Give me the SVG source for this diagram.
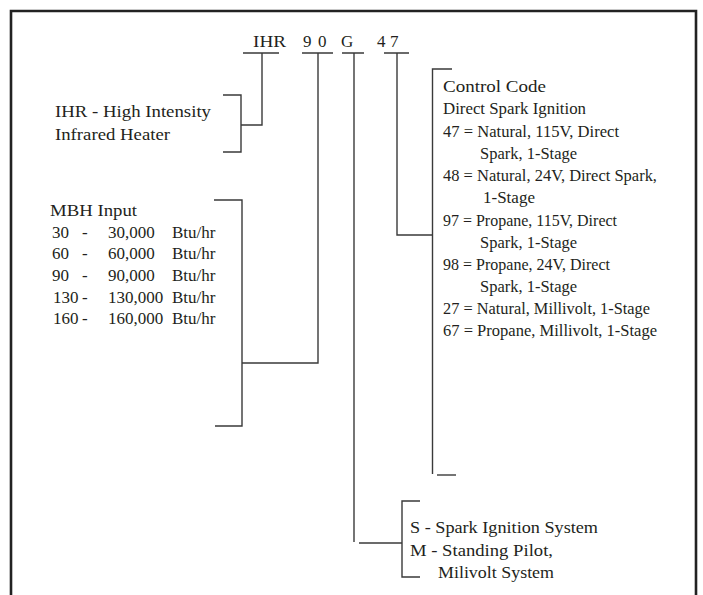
<svg xmlns="http://www.w3.org/2000/svg" width="703" height="595" viewBox="0 0 703 595">
<style>
text{font-family:"Liberation Serif","Times New Roman",serif;font-size:17px;fill:#231f20}
.ln{fill:none;stroke:#3a3a3a;stroke-width:1.4}
.border{fill:none;stroke:#222;stroke-width:2.6}
</style>
<rect x="0" y="0" width="703" height="595" fill="#fff"/>
<path class="border" d="M11,596 V11 H696 V596"/>
<g id="code">
<text x="253" y="47" textLength="33" lengthAdjust="spacingAndGlyphs">IHR</text>
<text x="303" y="47">9</text><text x="318" y="47">0</text>
<text x="341" y="47">G</text>
<text x="377" y="47">4</text><text x="390" y="47">7</text>
</g>
<g id="connectors">
<path class="ln" d="M243,53 H279 M302,53 H333 M342,53 H364 M384,53 H409"/>
<path class="ln" d="M262,53 V125 H241"/>
<path class="ln" d="M223,95 H241 V152 H223"/>
<path class="ln" d="M318,53 V363 H242"/>
<path class="ln" d="M214,200 H242 V426 H215"/>
<path class="ln" d="M354,53 V542"/>
<path class="ln" d="M359,543 H402"/>
<path class="ln" d="M420,501 H402 V577 H420"/>
<path class="ln" d="M397,53 V235 H432"/>
<path class="ln" d="M452,69 H432.5 V474"/>
<path class="ln" d="M437,475 H456"/>
</g>
<g id="ihr">
<text x="55" y="117" textLength="156" lengthAdjust="spacingAndGlyphs">IHR - High Intensity</text>
<text x="55" y="140" textLength="115" lengthAdjust="spacingAndGlyphs">Infrared Heater</text>
</g>
<g id="mbh">
<text x="50" y="216" textLength="87" lengthAdjust="spacingAndGlyphs">MBH Input</text>
<text y="238"><tspan x="52">30</tspan><tspan x="82">-</tspan><tspan x="108">30,000</tspan><tspan x="172">Btu/hr</tspan></text>
<text y="259"><tspan x="52">60</tspan><tspan x="82">-</tspan><tspan x="108">60,000</tspan><tspan x="172">Btu/hr</tspan></text>
<text y="281"><tspan x="52">90</tspan><tspan x="82">-</tspan><tspan x="108">90,000</tspan><tspan x="172">Btu/hr</tspan></text>
<text y="303"><tspan x="53">130</tspan><tspan x="82">-</tspan><tspan x="108">130,000</tspan><tspan x="172">Btu/hr</tspan></text>
<text y="324"><tspan x="53">160</tspan><tspan x="82">-</tspan><tspan x="108">160,000</tspan><tspan x="172">Btu/hr</tspan></text>
</g>
<g id="control">
<text x="443" y="92" textLength="103" lengthAdjust="spacingAndGlyphs">Control Code</text>
<text x="443" y="114" textLength="143" lengthAdjust="spacingAndGlyphs">Direct Spark Ignition</text>
<text x="443" y="137" textLength="176" lengthAdjust="spacingAndGlyphs">47 = Natural, 115V, Direct</text>
<text x="480" y="159" textLength="97" lengthAdjust="spacingAndGlyphs">Spark, 1-Stage</text>
<text x="443" y="181" textLength="214" lengthAdjust="spacingAndGlyphs">48 = Natural, 24V, Direct Spark,</text>
<text x="483" y="203">1-Stage</text>
<text x="443" y="226" textLength="174" lengthAdjust="spacingAndGlyphs">97 = Propane, 115V, Direct</text>
<text x="480" y="248" textLength="97" lengthAdjust="spacingAndGlyphs">Spark, 1-Stage</text>
<text x="443" y="270" textLength="167" lengthAdjust="spacingAndGlyphs">98 = Propane, 24V, Direct</text>
<text x="480" y="292" textLength="97" lengthAdjust="spacingAndGlyphs">Spark, 1-Stage</text>
<text x="443" y="314" textLength="207" lengthAdjust="spacingAndGlyphs">27 = Natural, Millivolt, 1-Stage</text>
<text x="443" y="336" textLength="214" lengthAdjust="spacingAndGlyphs">67 = Propane, Millivolt, 1-Stage</text>
</g>
<g id="ignition">
<text x="410" y="533" textLength="188" lengthAdjust="spacingAndGlyphs">S - Spark Ignition System</text>
<text x="410" y="556" textLength="143" lengthAdjust="spacingAndGlyphs">M - Standing Pilot,</text>
<text x="438" y="578" textLength="116" lengthAdjust="spacingAndGlyphs">Milivolt System</text>
</g>
</svg>
